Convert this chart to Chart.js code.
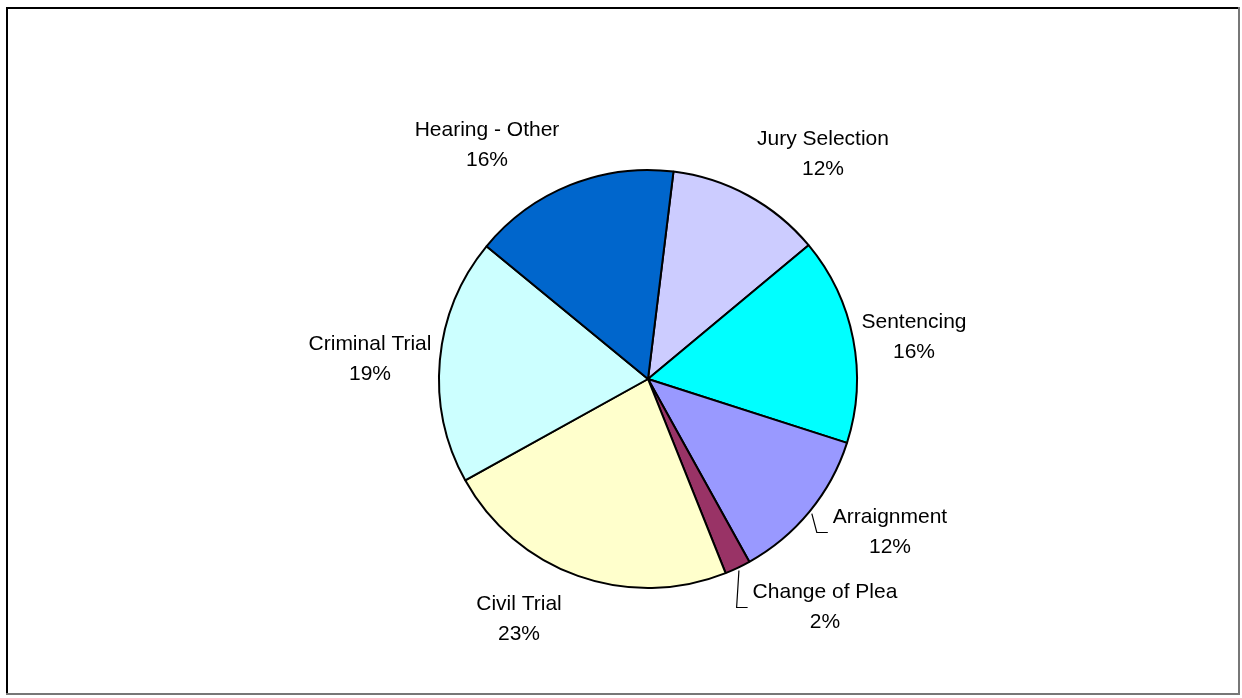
<!DOCTYPE html>
<html>
<head>
<meta charset="utf-8">
<script src="https://cdn.jsdelivr.net/npm/chart.js@4"></script>
<style>
  html, body { margin: 0; padding: 0; background: #fff; }
  canvas { display: block; }
</style>
</head>
<body>
<canvas id="myChart" width="1242" height="698"></canvas>
<script>
const labels = ["Jury Selection", "Sentencing", "Arraignment", "Change of Plea", "Civil Trial", "Criminal Trial", "Hearing - Other"];
const shares = [12, 16, 12, 2, 23, 19, 16];
const colors = ["#CCCCFF", "#00FFFF", "#9999FF", "#993366", "#FFFFCC", "#CCFFFF", "#0066CC"];

// where each label sits: text centre / first baseline, relative to the pie centre
const labelPlace = [
  { dx: 175, dy: -234 },
  { dx: 266, dy: -51 },
  { dx: 242, dy: 144, leader: true },
  { dx: 177, dy: 219, leader: true },
  { dx: -129, dy: 231 },
  { dx: -278, dy: -29 },
  { dx: -161, dy: -243 },
];

const FONT = "21px 'Liberation Sans', Arial, sans-serif";

// white page with the chart frame
const frame = {
  id: "frame",
  beforeDraw(chart) {
    const c = chart.ctx;
    c.save();
    c.fillStyle = "#fff";
    c.fillRect(0, 0, chart.width, chart.height);
    c.fillStyle = "#000";
    c.fillRect(6, 7, 1234, 2);
    c.fillRect(6, 7, 2, 688);
    c.fillStyle = "#777";
    c.fillRect(1238, 7, 2, 688);
    c.fillRect(6, 693, 1234, 2);
    c.restore();
  }
};

// category name + percentage outside each slice
const sliceLabels = {
  id: "sliceLabels",
  afterDatasetsDraw(chart) {
    const c = chart.ctx;
    const arcs = chart.getDatasetMeta(0).data;
    const values = chart.data.datasets[0].data;
    const total = values.reduce((a, b) => a + b, 0);
    c.save();
    c.font = FONT;
    c.fillStyle = "#000";
    c.textAlign = "center";
    c.textBaseline = "alphabetic";
    arcs.forEach((arc, i) => {
      const p = labelPlace[i];
      const cx = arc.x + p.dx;
      const by = arc.y + p.dy;
      const name = chart.data.labels[i];
      c.fillText(name, cx, by);
      c.fillText(Math.round(values[i] / total * 100) + "%", cx, by + 30);
      if (p.leader) {
        const mid = (arc.startAngle + arc.endAngle) / 2;
        const r = arc.outerRadius + 3;
        const start = cx - c.measureText(name).width / 2;
        const ly = by + 9.5;
        c.beginPath();
        c.strokeStyle = "#000";
        c.lineWidth = 1.2;
        c.moveTo(arc.x + Math.cos(mid) * r, arc.y + Math.sin(mid) * r);
        c.lineTo(start - 16, ly);
        c.lineTo(start - 5, ly);
        c.stroke();
      }
    });
    c.restore();
  }
};

const ctx = document.getElementById("myChart").getContext("2d");

const data = {
  labels,
  datasets: [{
    data: shares,
    backgroundColor: colors,
    borderColor: "#000",
    borderWidth: 2,
    hoverOffset: 0,
  }],
};

const config = {
  type: "pie",
  data: data,
  options: {
    responsive: false,
    animation: false,
    rotation: 7,
    layout: { padding: { left: 438, right: 384, top: 169, bottom: 109 } },
    plugins: {
      legend: { display: false },
      tooltip: { enabled: false },
    },
  },
  plugins: [frame, sliceLabels],
};

const myChart = new Chart(ctx, config);
</script>
</body>
</html>
